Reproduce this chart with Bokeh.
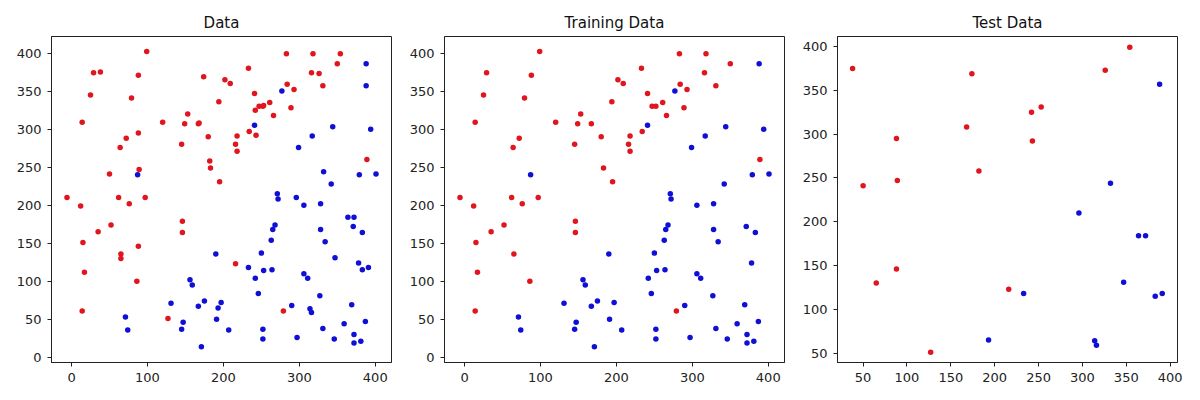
from bokeh.plotting import figure
from bokeh.layouts import row
from bokeh.models import FixedTicker, Range1d
from bokeh.embed import file_html
from bokeh.resources import INLINE

# Training data, class "red"
train_red_x = [99, 29, 88, 25, 79, 14, 120, 153, 149, 72, 64, 145, -6, 62, 97, 12, 76, 146, 146, 52,
               35, 15, 65, 17, 86, 14, 283, 318, 233, 350, 316, 202, 209, 284, 331, 293, 241, 194,
               247, 252, 261, 266, 289, 167, 180, 218, 216, 218, 234, 389, 183, 195, 279]
train_red_y = [402, 374, 371, 345, 341, 309, 309, 320, 307, 288, 276, 280, 210, 210, 210, 199, 202, 179, 164, 174,
               165, 151, 136, 112, 100, 61, 399, 399, 380, 386, 374, 365, 360, 359, 357, 352, 347, 336,
               330, 330, 335, 318, 328, 307, 290, 291, 280, 271, 297, 260, 249, 231, 61]

# Training data, class "blue"
train_blue_x = [87, 71, 74, 131, 147, 145, 156, 159, 167, 388, 277, 241, 344, 394, 317, 299, 379, 401, 342,
                271, 272, 306, 328, 371, 383, 328, 334, 268, 265, 263, 250, 190, 378, 253, 264, 242, 306,
                311, 246, 327, 175, 197, 191, 207, 171, 290, 252, 252, 297, 331, 346, 359, 369, 387, 372,
                372, 381]
train_blue_y = [240, 53, 36, 71, 46, 37, 102, 95, 67, 386, 350, 305, 303, 300, 291, 276, 240, 241, 228,
                215, 208, 200, 202, 172, 164, 168, 152, 174, 168, 154, 137, 136, 124, 114, 115, 104, 110,
                104, 84, 81, 74, 72, 50, 36, 14, 68, 37, 24, 26, 38, 24, 44, 69, 47, 30,
                19, 21]

# Test data, class "red"
test_red_x = [38, 174, 168, 88, 182, 50, 89, 88, 65, 127, 354, 326, 253, 242, 243, 216]
test_red_y = [375, 369, 308, 295, 258, 241, 247, 146, 130, 51, 399, 373, 331, 325, 292, 123]

# Test data, class "blue"
test_blue_x = [193, 388, 332, 296, 364, 372, 347, 233, 383, 391, 314, 316]
test_blue_y = [65, 357, 244, 210, 184, 184, 131, 118, 115, 118, 64, 59]

titles = ["Data", "Training Data", "Test Data"]
ticks_full = [0, 50, 100, 150, 200, 250, 300, 350, 400]
xticks_full = [0, 100, 200, 300, 400]
ticks_test = [50, 100, 150, 200, 250, 300, 350, 400]

RED = "#e0151d"
BLUE = "#0f0fd6"
FONT = "DejaVu Sans"


def make_fig(title, xr, yr, xt, yt, left):
    p = figure(width=left + 340 + 10, height=392, frame_width=340, frame_height=326,
               x_range=Range1d(*xr), y_range=Range1d(*yr),
               output_backend="svg", toolbar_location=None,
               min_border_left=left, min_border_right=10, min_border_top=36, min_border_bottom=30)
    p.title.text = title
    p.title.align = "center"
    p.title.text_font = FONT
    p.title.text_font_size = "15px"
    p.title.text_font_style = "normal"
    p.title.text_color = "#111111"
    p.title.standoff = 9
    p.xgrid.visible = False
    p.ygrid.visible = False
    p.outline_line_color = "#222222"
    p.outline_line_width = 1
    p.outline_line_alpha = 1
    p.background_fill_color = "white"
    p.border_fill_color = "white"
    for ax, t in ((p.xaxis, xt), (p.yaxis, yt)):
        ax.ticker = FixedTicker(ticks=t)
        ax.minor_tick_line_color = None
        ax.major_tick_in = 0
        ax.major_tick_out = 4
        ax.major_tick_line_color = "#222222"
        ax.axis_line_color = "#222222"
        ax.major_label_text_font = FONT
        ax.major_label_text_font_size = "13px"
        ax.major_label_text_color = "#222222"
        ax.major_label_standoff = 6
    return p


p1 = make_fig(titles[0], (-26.4, 421.4), (-6.8, 421.8), xticks_full, ticks_full, 51)
p1.scatter(train_red_x + test_red_x, train_red_y + test_red_y, size=5.5, color=RED, line_color=None)
p1.scatter(train_blue_x + test_blue_x, train_blue_y + test_blue_y, size=5.5, color=BLUE, line_color=None)

p2 = make_fig(titles[1], (-26.4, 421.4), (-6.8, 421.8), xticks_full, ticks_full, 43)
p2.scatter(train_red_x, train_red_y, size=5.5, color=RED, line_color=None)
p2.scatter(train_blue_x, train_blue_y, size=5.5, color=BLUE, line_color=None)

p3 = make_fig(titles[2], (20.8, 408.4), (39.3, 411.4), ticks_test, ticks_test, 43)
p3.scatter(test_red_x, test_red_y, size=5.5, color=RED, line_color=None)
p3.scatter(test_blue_x, test_blue_y, size=5.5, color=BLUE, line_color=None)

layout = row(p1, p2, p3, spacing=0)
open("out.html", "w").write(file_html(layout, INLINE))
